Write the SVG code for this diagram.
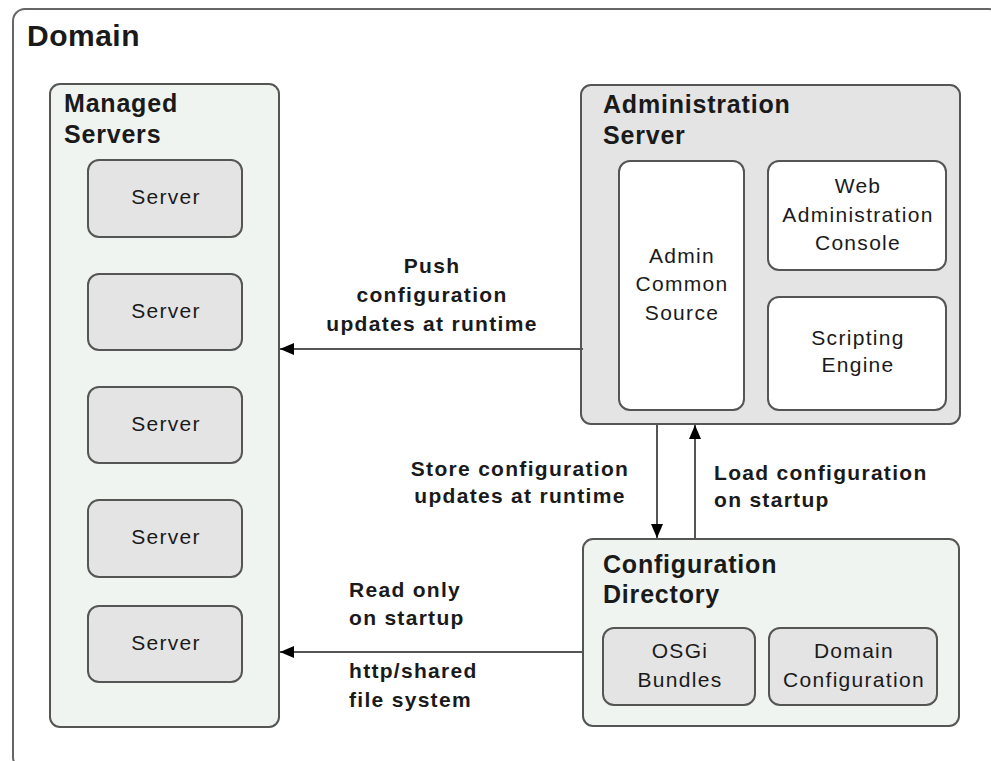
<svg xmlns="http://www.w3.org/2000/svg" width="991" height="761" viewBox="0 0 991 761">
<defs>
<marker id="ah" viewBox="0 0 14 12" refX="14" refY="6" markerWidth="14" markerHeight="12" markerUnits="userSpaceOnUse" orient="auto">
<path d="M0,0 L14,6 L0,12 Z" fill="#000"/>
</marker>
<style>
text{font-family:"Liberation Sans",Arial,sans-serif;fill:#1a1a1a}
.t{font-size:25px;font-weight:bold;letter-spacing:0.8px}
.l{font-size:21px;font-weight:bold;letter-spacing:1.3px}
.r{font-size:21px;letter-spacing:1.3px;text-anchor:middle}
.pane{fill:#f0f4f1;stroke:#555;stroke-width:2}
.gray{fill:#e4e4e4;stroke:#555;stroke-width:2}
.white{fill:#fff;stroke:#555;stroke-width:2}
.conn{stroke:#555;stroke-width:2;fill:none;marker-end:url(#ah)}
</style>
</defs>
<rect width="991" height="761" fill="#fff"/>
<g id="domain">
<rect x="13" y="9" width="988" height="760" rx="12" fill="#fff" stroke="#666" stroke-width="2"/>
<text x="27" y="46" style="font-size:30px;font-weight:bold;letter-spacing:0.5px">Domain</text>
</g>
<g id="managed-servers">
<rect class="pane" x="50" y="84" width="229" height="643" rx="10"/>
<text class="t" x="64" y="112">Managed</text>
<text class="t" x="64" y="143">Servers</text>
</g>
<g id="server1"><rect class="gray" x="88" y="160" width="154" height="77" rx="11"/><text class="r" x="166" y="204">Server</text></g>
<g id="server2"><rect class="gray" x="88" y="274" width="154" height="76" rx="11"/><text class="r" x="166" y="318">Server</text></g>
<g id="server3"><rect class="gray" x="88" y="387" width="154" height="76" rx="11"/><text class="r" x="166" y="431">Server</text></g>
<g id="server4"><rect class="gray" x="88" y="500" width="154" height="77" rx="11"/><text class="r" x="166" y="544">Server</text></g>
<g id="server5"><rect class="gray" x="88" y="606" width="154" height="76" rx="11"/><text class="r" x="166" y="650">Server</text></g>
<g id="admin-server">
<rect class="gray" x="581" y="85" width="379" height="339" rx="10"/>
<text class="t" x="603" y="113">Administration</text>
<text class="t" x="603" y="144">Server</text>
</g>
<g id="admin-common-source">
<rect class="white" x="619" y="161" width="125" height="249" rx="11"/>
<text class="r" x="682" y="263">Admin</text>
<text class="r" x="682" y="291">Common</text>
<text class="r" x="682" y="320">Source</text>
</g>
<g id="web-admin-console">
<rect class="white" x="768" y="161" width="178" height="109" rx="11"/>
<text class="r" x="858" y="193">Web</text>
<text class="r" x="858" y="222">Administration</text>
<text class="r" x="858" y="250">Console</text>
</g>
<g id="scripting-engine">
<rect class="white" x="768" y="297" width="178" height="113" rx="11"/>
<text class="r" x="858" y="345">Scripting</text>
<text class="r" x="858" y="372">Engine</text>
</g>
<g id="config-directory">
<rect class="pane" x="583" y="539" width="376" height="187" rx="10"/>
<text class="t" x="603" y="573">Configuration</text>
<text class="t" x="603" y="603">Directory</text>
</g>
<g id="osgi-bundles">
<rect class="gray" x="603" y="628" width="152" height="77" rx="11"/>
<text class="r" x="680" y="658">OSGi</text>
<text class="r" x="680" y="687">Bundles</text>
</g>
<g id="domain-configuration">
<rect class="gray" x="769" y="628" width="168" height="77" rx="11"/>
<text class="r" x="854" y="658">Domain</text>
<text class="r" x="854" y="687">Configuration</text>
</g>
<g id="connectors">
<line class="conn" x1="583" y1="349" x2="280" y2="349"/>
<line class="conn" x1="583" y1="652" x2="280" y2="652"/>
<line class="conn" x1="657" y1="424" x2="657" y2="538"/>
<line class="conn" x1="695" y1="539" x2="695" y2="425"/>
<text class="l" x="432" y="273" text-anchor="middle">Push</text>
<text class="l" x="432" y="302" text-anchor="middle">configuration</text>
<text class="l" x="432" y="331" text-anchor="middle">updates at runtime</text>
<text class="l" x="520" y="476" text-anchor="middle">Store configuration</text>
<text class="l" x="520" y="503" text-anchor="middle">updates at runtime</text>
<text class="l" x="714" y="480">Load configuration</text>
<text class="l" x="714" y="507">on startup</text>
<text class="l" x="349" y="597">Read only</text>
<text class="l" x="349" y="625">on startup</text>
<text class="l" x="349" y="678">http/shared</text>
<text class="l" x="349" y="707">file system</text>
</g>
</svg>
